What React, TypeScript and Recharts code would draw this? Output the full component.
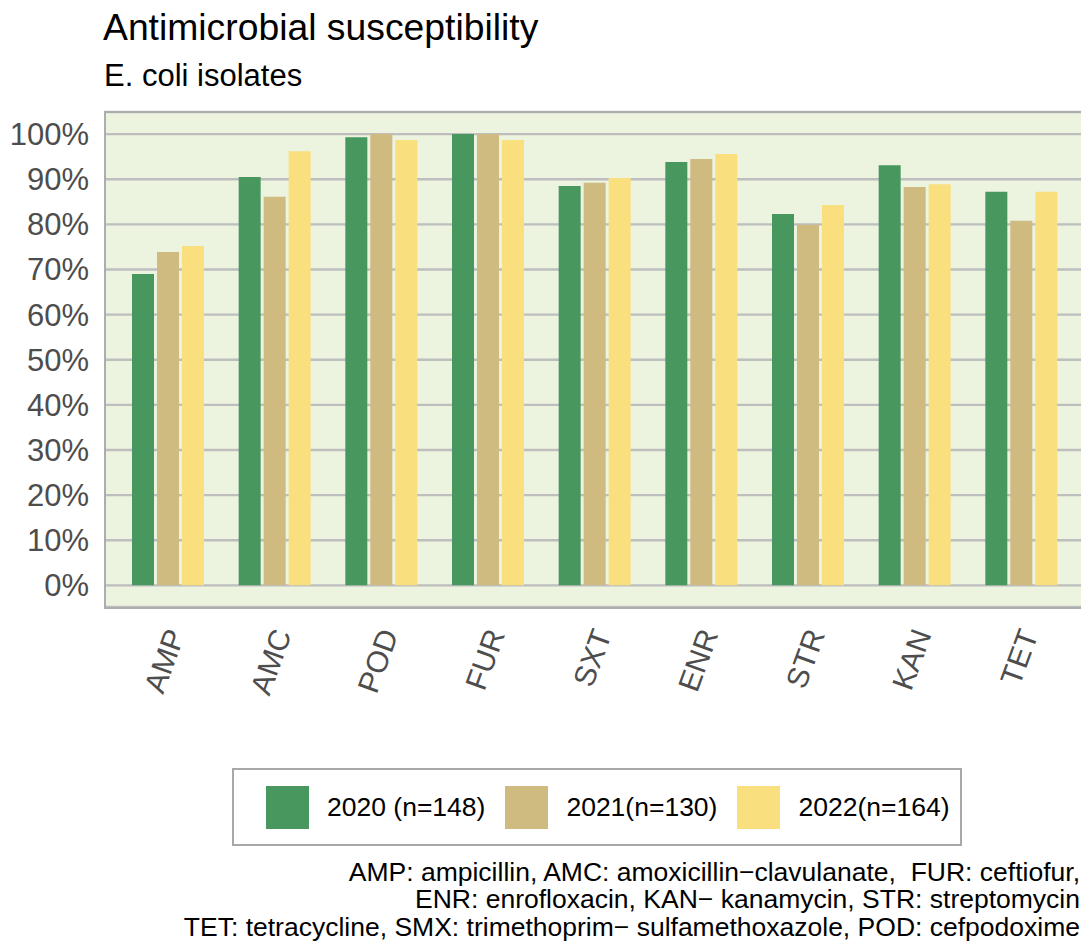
import { Bar, BarChart, CartesianGrid, Legend, XAxis, YAxis } from "recharts";

const categories = ["AMP", "AMC", "POD", "FUR", "SXT", "ENR", "STR", "KAN", "TET"];
const y2020 = [69.0, 90.5, 99.3, 100, 88.5, 93.8, 82.3, 93.1, 87.2];
const y2021 = [73.9, 86.1, 100, 100, 89.2, 94.5, 79.9, 88.3, 80.8];
const y2022 = [75.2, 96.2, 98.7, 98.7, 90.3, 95.6, 84.3, 88.9, 87.2];
const yTicks = [0, 10, 20, 30, 40, 50, 60, 70, 80, 90, 100];
const seriesNames = ["2020 (n=148)", "2021(n=130)", "2022(n=164)"];
const captionLines = [
  "AMP: ampicillin, AMC: amoxicillin\u2212clavulanate,  FUR: ceftiofur,",
  "ENR: enrofloxacin, KAN\u2212 kanamycin, STR: streptomycin",
  "TET: tetracycline, SMX: trimethoprim\u2212 sulfamethoxazole, POD: cefpodoxime",
];

const GREEN = "#47975F";
const TAN = "#CFBB80";
const YELLOW = "#F9DF7E";
const PANEL = "#ECF3DF";
const GRID = "#BEBEBE";
const AXIS_TEXT = "#4D4D4D";
const FONT = "'Liberation Sans', Arial, sans-serif";

const rows = categories.map((c, i) => ({
  name: c,
  a: y2020[i],
  b: y2021[i],
  c: y2022[i],
}));

function XTick(props: any) {
  const { x, y, payload } = props;
  const ax = x + 17;
  const ay = y + 19;
  return (
    <text
      x={ax}
      y={ay}
      transform={`rotate(-70, ${ax}, ${ay})`}
      textAnchor="end"
      fill={AXIS_TEXT}
      fontSize={30}
      fontFamily={FONT}
    >
      {payload.value}
    </text>
  );
}

function LegendBox({ payload }: any) {
  return (
    <div
      style={{
        boxSizing: "border-box",
        width: 730,
        height: 78,
        border: "2px solid #A8A8A8",
        background: "#fff",
        display: "flex",
        alignItems: "center",
        paddingLeft: 32,
        fontFamily: FONT,
        fontSize: 26.5,
        color: "#000",
        whiteSpace: "nowrap",
      }}
    >
      {(payload || []).map((p: any) => (
        <div key={p.value} style={{ display: "flex", alignItems: "center", marginRight: 20, flexShrink: 0 }}>
          <div style={{ width: 43, height: 43, background: p.color, marginRight: 18, flexShrink: 0 }} />
          <span>{p.value}</span>
        </div>
      ))}
    </div>
  );
}

export default function App() {
  return (
    <div
      style={{
        position: "absolute",
        left: 0,
        top: 0,
        width: 1081,
        height: 942,
        overflow: "hidden",
        background: "#fff",
        fontFamily: FONT,
      }}
    >
      <div style={{ position: "absolute", left: 103, top: 9, fontSize: 37.3, lineHeight: "37px", color: "#000", whiteSpace: "nowrap" }}>
        Antimicrobial susceptibility
      </div>
      <div style={{ position: "absolute", left: 104, top: 60, fontSize: 31, lineHeight: "31px", color: "#000", whiteSpace: "nowrap" }}>
        E. coli isolates
      </div>
      <BarChart
        width={1090}
        height={942}
        data={rows}
        margin={{ top: 112, right: 4, bottom: 235, left: 14 }}
        barSize={22}
        barGap={3}
      >
        <CartesianGrid vertical={false} stroke={GRID} strokeWidth={2.4} fill={PANEL} />
        <XAxis
          dataKey="name"
          height={100}
          padding={{ left: 11, right: 11 }}
          axisLine={false}
          tickLine={false}
          interval={0}
          tick={<XTick />}
        />
        <YAxis
          width={90}
          domain={[-4.8, 104.9]}
          ticks={yTicks}
          allowDataOverflow
          axisLine={false}
          tickLine={false}
          tickSize={6}
          tickMargin={9}
          tickFormatter={(v: number) => `${v}%`}
          tick={{ fill: AXIS_TEXT, fontSize: 31, fontFamily: FONT }}
        />
        <Legend
          layout="horizontal"
          verticalAlign="middle"
          align="center"
          wrapperStyle={{ left: 232, top: 768, width: 730, height: 78 }}
          content={<LegendBox />}
        />
        <Bar dataKey="a" name={seriesNames[0]} fill={GREEN} isAnimationActive={false} />
        <Bar dataKey="b" name={seriesNames[1]} fill={TAN} isAnimationActive={false} />
        <Bar dataKey="c" name={seriesNames[2]} fill={YELLOW} isAnimationActive={false} />
      </BarChart>
      <div
        style={{
          position: "absolute",
          left: 104,
          top: 111,
          width: 990,
          height: 494,
          border: "2px solid #ADADAD",
          pointerEvents: "none",
        }}
      />
      <div
        style={{
          position: "absolute",
          right: 1,
          top: 859,
          textAlign: "right",
          fontSize: 26.5,
          lineHeight: "27.3px",
          color: "#000",
          whiteSpace: "pre",
        }}
      >
        {captionLines.map((l) => (
          <div key={l}>{l}</div>
        ))}
      </div>
    </div>
  );
}
